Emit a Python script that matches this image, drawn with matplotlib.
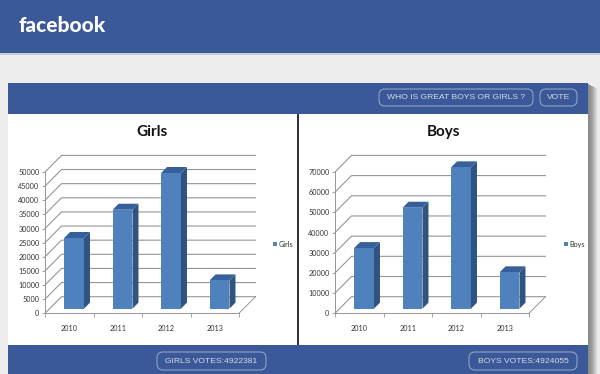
import matplotlib
matplotlib.use('Agg')
from matplotlib import pyplot as plt
from matplotlib.patches import FancyBboxPatch, Polygon, Rectangle

W, H = 600, 374

years = ['2010', '2011', '2012', '2013']
girls = [25000, 35000, 48000, 10000]
boys = [30000, 50000, 70000, 18000]
girls_ticks = [0, 5000, 10000, 15000, 20000, 25000, 30000, 35000, 40000, 45000, 50000]
boys_ticks = [0, 10000, 20000, 30000, 40000, 50000, 60000, 70000]

BLUE = '#3b5998'
BAR_FRONT = '#4f81bd'
BAR_SIDE = '#2f5482'
BAR_TOP = '#36609a'
GRID = '#969696'
TEXT = '#333333'


def to_fig(x0, y0, x1, y1):
    # pixel box (top-left origin) to figure fractions
    return [x0 / W, 1 - y1 / H, (x1 - x0) / W, (y1 - y0) / H]


def button(ax, x0, y0, x1, y1, label):
    ax.add_patch(FancyBboxPatch((x0 + 6, y0 + 6), x1 - x0 - 12, y1 - y0 - 12,
                                boxstyle='round,pad=6', fc='none', ec='#8ea2c8', lw=0.8))
    ax.text((x0 + x1) / 2, (y0 + y1) / 2 + 0.3, label, color='#d8dce6', fontsize=6.1,
            family='Liberation Sans', ha='center', va='center')


def bar_chart(box, title, title_x, name, values, ticks, legend_x):
    ax = fig.add_axes(to_fig(*box))
    ymax = ticks[-1]
    ax.set_xlim(0, len(values))
    ax.set_ylim(0, ymax)
    ax.patch.set_alpha(0)
    for s in ['top', 'right']:
        ax.spines[s].set_visible(False)
    ax.spines['left'].set_color(GRID)
    ax.spines['bottom'].set_color(GRID)
    ax.spines['left'].set_linewidth(0.7)
    ax.spines['bottom'].set_linewidth(0.7)

    # depth of the 3d box, in data units
    px_w = box[2] - box[0]
    px_h = box[3] - box[1]
    ux = len(values) / px_w
    uy = ymax / px_h
    dx = 16.5 * ux
    dy = 16.6 * uy

    for t in ticks:
        ax.plot([0, dx, len(values) + dx], [t, t + dy, t + dy], color=GRID, lw=0.8,
                clip_on=False, zorder=1)
    ax.plot([len(values), len(values) + dx], [0, dy], color=GRID, lw=0.7, clip_on=False, zorder=1)

    # bars sit part way into the floor
    fx = 0.29 * dx
    fy = 0.28 * dy
    sx = 6 * ux
    sy = 6 * uy
    bw = 0.41
    for i, v in enumerate(values):
        l = i + 0.5 - bw / 2 + fx
        r = l + bw
        ax.add_patch(Polygon([(r, fy), (r + sx, fy + sy), (r + sx, v + fy + sy), (r, v + fy)],
                             fc=BAR_SIDE, ec='none', clip_on=False, zorder=3))
        ax.add_patch(Polygon([(l, v + fy), (r, v + fy), (r + sx, v + fy + sy), (l + sx, v + fy + sy)],
                             fc=BAR_TOP, ec='none', clip_on=False, zorder=3))
        ax.add_patch(Rectangle((l, fy), bw, v, fc=BAR_FRONT, ec='none', clip_on=False, zorder=4))

    ax.set_xticks(range(len(values) + 1))
    ax.set_xticklabels([])
    ax.set_yticks(ticks)
    ax.set_yticklabels([str(t) for t in ticks])
    ax.tick_params(axis='y', labelsize=5.2, length=2, width=0.6, color=GRID, labelcolor=TEXT, pad=2)
    ax.tick_params(axis='x', length=3, width=0.6, color=GRID)
    for label in ax.get_yticklabels():
        label.set_fontfamily('Lato')
    for i, y in enumerate(years):
        ax.text(i + 0.5, -15.5 * uy, y, fontsize=5.2, color=TEXT, ha='center', va='center',
                family='Lato')

    page.text(title_x, 132, title, fontsize=11, fontweight='bold', family='Lato', color='#111111',
              ha='center', va='center')
    page.add_patch(Rectangle((legend_x, 242), 4, 4, fc=BAR_FRONT, ec='none'))
    page.text(legend_x + 5.5, 244, name, fontsize=5.2, color=TEXT, va='center', family='Lato')


fig = plt.figure(figsize=(W / 100, H / 100), dpi=100, facecolor='#ededed')

# page furniture drawn in pixel coordinates
page = fig.add_axes([0, 0, 1, 1])
page.set_xlim(0, W)
page.set_ylim(H, 0)
page.axis('off')

page.add_patch(Rectangle((0, 0), W, 53, fc=BLUE, ec='none'))
page.add_patch(Rectangle((0, 53), W, 1.5, fc='#c9ced8', ec='none'))
page.text(18.5, 25.5, 'facebook', color='white', fontsize=15, fontweight='black', family='Lato',
          va='center', ha='left')

# right hand shadow of the panel
shadow = ['#8a8a8a', '#8e8e8e', '#949494', '#9c9c9c', '#a6a6a6', '#b2b2b2', '#c0c0c0', '#cecece', '#dcdcdc', '#e6e6e6']
for i, c in enumerate(shadow):
    page.add_patch(Rectangle((588 + i, 84 + i / 2), 1, H - 84, fc=c, ec='none'))

page.add_patch(Rectangle((8, 83), 580, 31, fc=BLUE, ec='none'))
page.add_patch(Rectangle((8, 114), 580, 231, fc='white', ec='none'))
page.add_patch(Rectangle((8, 345), 580, 29, fc=BLUE, ec='none'))
page.add_patch(Rectangle((297, 114), 1.6, 231, fc='#333333', ec='none'))

button(page, 379, 89, 533, 106, 'WHO IS GREAT BOYS OR GIRLS ?')
button(page, 540, 89, 577, 106, 'VOTE')
button(page, 157, 352, 266, 370, 'GIRLS VOTES:4922381')
button(page, 469, 352, 577, 370, 'BOYS VOTES:4924055')

bar_chart((45, 172, 239, 313.3), 'Girls', 152, 'Girls', girls, girls_ticks, 273)
bar_chart((335, 172, 529, 313.3), 'Boys', 443, 'Boys', boys, boys_ticks, 564)

fig.savefig('out.png', dpi=100, facecolor=fig.get_facecolor())
